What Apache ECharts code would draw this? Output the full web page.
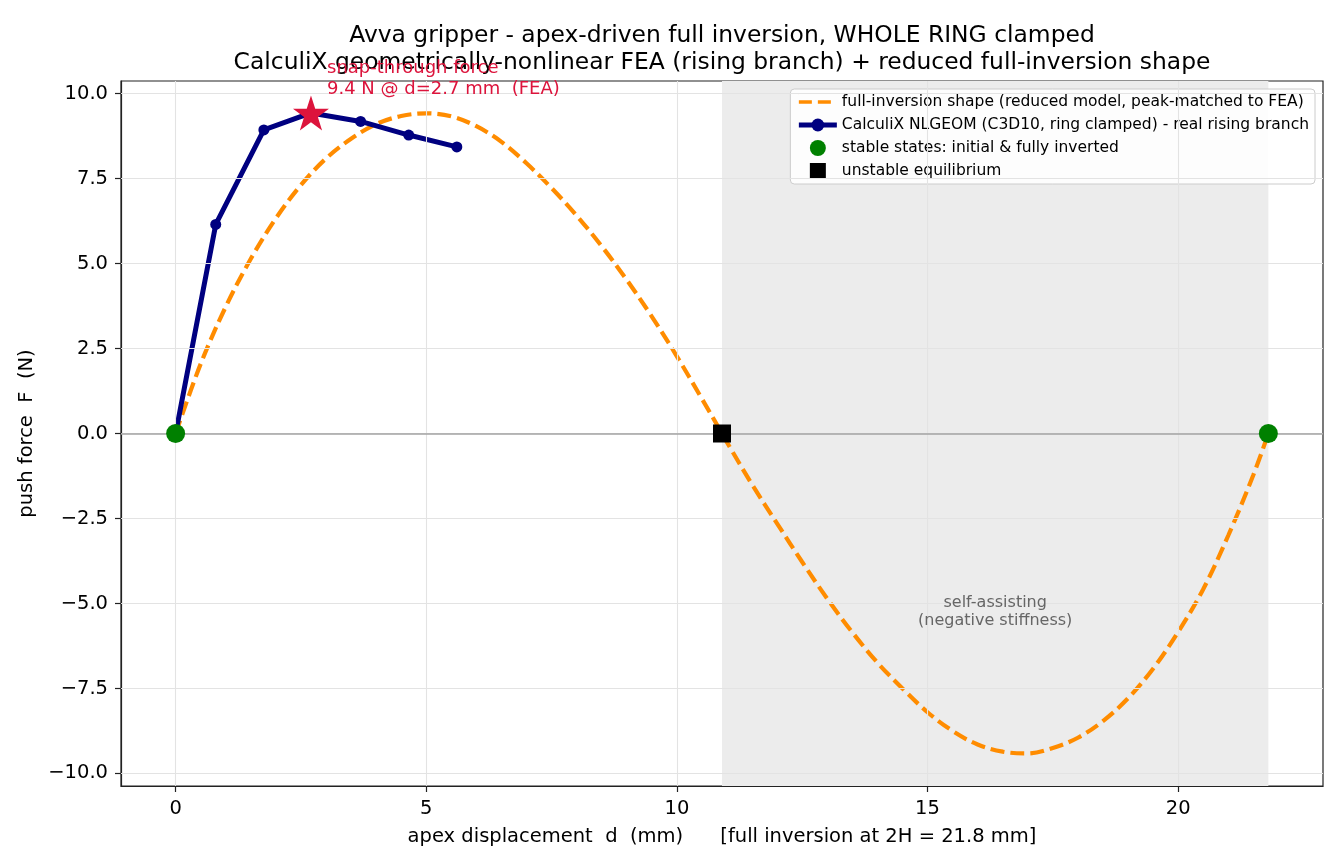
<!DOCTYPE html>
<html><head><meta charset="utf-8">
<script src="https://cdn.jsdelivr.net/npm/echarts@6/dist/echarts.min.js"></script>
<style>html,body{margin:0;padding:0;background:#fff}#c{width:1344px;height:868px}</style>
</head><body><div id="c"></div>
<script>
// ---------- data ----------
const shapeD = [0,0.5,1,1.5,2,2.5,3,3.5,4,4.5,5,5.5,6,6.5,7,7.5,8,8.5,9,9.5,10,10.5,10.9,11,11.5,12,12.5,13,13.5,14,14.5,15,15.5,16,16.5,17,17.5,18,18.5,19,19.5,20,20.5,21,21.5,21.8];
const shapeF = [0,2.05,3.73,5.14,6.33,7.31,8.09,8.67,9.10,9.34,9.42,9.33,9.04,8.58,7.95,7.22,6.41,5.51,4.52,3.44,2.27,1.02,0,-0.26,-1.5,-2.65,-3.78,-4.86,-5.85,-6.74,-7.5,-8.2,-8.75,-9.15,-9.36,-9.41,-9.25,-8.95,-8.46,-7.79,-6.92,-5.84,-4.58,-3.0,-1.22,0];
const feaD = [0,0.8,1.76,2.7,3.69,4.65,5.61];
const feaF = [0,6.15,8.93,9.43,9.18,8.78,8.43];
const peakD = [2.7];
const peakF = [9.43];
const stableD = [0,21.8];
const stableF = [0,0];
const unstableD = [10.9];
const unstableF = [0];
const shadeRange = [10.9,21.8];
const xTicks = [0,5,10,15,20];
const yTicks = [-10,-7.5,-5,-2.5,0,2.5,5,7.5,10];
const xRange = [-1.09,22.89];
const yRange = [-10.37,10.37];

const titleLines = ['Avva gripper - apex-driven full inversion, WHOLE RING clamped',
  'CalculiX geometrically-nonlinear FEA (rising branch) + reduced full-inversion shape'];
const annotText = 'snap-through force\n9.4 N @ d=2.7 mm  (FEA)';
const annotPos = [3.02,10.43];
const regionText = 'self-assisting\n(negative stiffness)';
const regionPos = [16.35,-5.24];
const names = ['full-inversion shape (reduced model, peak-matched to FEA)',
  'CalculiX NLGEOM (C3D10, ring clamped) - real rising branch',
  'stable states: initial & fully inverted',
  'unstable equilibrium'];

const FONT = 'DejaVu Sans';
function starPath(){
  const pts=[];
  for(let i=0;i<10;i++){
    const r = i%2===0 ? 1 : 0.382;
    const a = -Math.PI/2 + i*Math.PI/5;
    pts.push((50+50*r*Math.cos(a)).toFixed(2)+','+(50+50*r*Math.sin(a)).toFixed(2));
  }
  return 'path://M'+pts.join('L')+'Z';
}
// legend glyph: two dashes inside a 38x16 box (tiny corner specks keep the box size)
const dashIcon = 'path://M0,0L0.2,0L0,0.2ZM38,16L37.8,16L38,15.8ZM0,6.2H13V9.8H0ZM19,6.2H32V9.8H19Z';
const squareIcon = 'path://M0,0H10V10H0Z';
const zip=(a,b)=>a.map((v,i)=>[v,b[i]]);
const fmtY = v => { const s=(Math.abs(v)).toFixed(1); return v<0 ? '\u2212'+s : s; };

const GRID = {left:121,right:21,top:81,bottom:82};
const chart = echarts.init(document.getElementById('c'),null,{renderer:'canvas'});
const option = {
  backgroundColor:'#ffffff',
  animation:false,
  textStyle:{fontFamily:FONT},
  grid:{left:GRID.left,right:GRID.right,top:GRID.top,bottom:GRID.bottom,show:true,borderColor:'#222',borderWidth:1.2,backgroundColor:'transparent'},
  legend:{
    orient:'vertical',right:29,top:89,
    backgroundColor:'rgba(255,255,255,0.9)',borderColor:'#cccccc',borderWidth:1,borderRadius:4,
    padding:[5,6,5,6],itemWidth:38,itemHeight:16,itemGap:7,
    textStyle:{fontFamily:FONT,fontSize:15.5,color:'#000'},
    data:[
      {name:names[0],icon:dashIcon,itemStyle:{color:'#ff8c00'}},
      {name:names[1],lineStyle:{width:5,color:'#000080'}},
      {name:names[2]},
      {name:names[3],icon:squareIcon}
    ]
  },
  xAxis:{
    type:'value',min:xRange[0],max:xRange[1],
    name:'apex displacement  d  (mm)      [full inversion at 2H = 21.8 mm]',
    nameLocation:'middle',nameGap:41,
    nameTextStyle:{fontFamily:FONT,fontSize:19.5,color:'#000'},
    axisLine:{show:true,onZero:false,lineStyle:{color:'#222',width:1.2}},
    axisTick:{show:true,customValues:xTicks,length:6,lineStyle:{color:'#222',width:1.2}},
    axisLabel:{customValues:xTicks,margin:13,fontFamily:FONT,fontSize:19.5,color:'#000',formatter:v=>String(v)},
    splitLine:{show:false}
  },
  yAxis:{
    type:'value',min:yRange[0],max:yRange[1],
    name:'push force  F  (N)',nameLocation:'middle',nameGap:74,
    nameTextStyle:{fontFamily:FONT,fontSize:19.5,color:'#000'},
    axisLine:{show:true,onZero:false,lineStyle:{color:'#222',width:1.2}},
    axisTick:{show:true,customValues:yTicks,length:6,lineStyle:{color:'#222',width:1.2}},
    axisLabel:{customValues:yTicks,margin:13,fontFamily:FONT,fontSize:19.5,color:'#000',formatter:fmtY},
    splitLine:{show:false}
  },
  series:[
    {name:'_shade',type:'line',data:[],z:1,silent:true,
     markArea:{silent:true,itemStyle:{color:'#ececec'},label:{show:false},
       data:[[{xAxis:shadeRange[0]},{xAxis:shadeRange[1]}]]}},
    {name:'_grid',type:'line',data:[],z:1,silent:true,
     markLine:{silent:true,symbol:['none','none'],label:{show:false},animation:false,
       lineStyle:{color:'#e3e3e3',width:1.1,type:'solid'},
       data:xTicks.map(v=>({xAxis:v})).concat(yTicks.map(v=>({yAxis:v})))}},
    {name:'_zero',type:'line',data:[],z:2,silent:true,
     markLine:{silent:true,symbol:['none','none'],label:{show:false},animation:false,
       lineStyle:{color:'#a3a3a3',width:1.6,type:'solid'},data:[{yAxis:0}]}},
    {name:names[0],type:'line',data:zip(shapeD,shapeF),z:3,symbol:'none',showSymbol:false,
     smooth:0.35,
     lineStyle:{color:'#ff8c00',width:4.2,type:[14,6]},itemStyle:{color:'#ff8c00'}},
    {name:names[1],type:'line',data:zip(feaD,feaF),z:4,symbol:'circle',symbolSize:11,showSymbol:true,
     lineStyle:{color:'#000080',width:5},itemStyle:{color:'#000080',opacity:1}},
    {name:'_star',type:'scatter',data:zip(peakD,peakF),z:5,symbol:starPath(),symbolSize:[36,35],
     itemStyle:{color:'#dc143c',opacity:1}},
    {name:names[2],type:'scatter',data:zip(stableD,stableF),z:6,symbol:'circle',symbolSize:19,
     itemStyle:{color:'#008000',opacity:1},clip:false},
    {name:names[3],type:'scatter',data:zip(unstableD,unstableF),z:6,symbol:'rect',symbolSize:18,
     itemStyle:{color:'#000000',opacity:1}}
  ]
};
chart.setOption(option);

const gridCx = GRID.left + (1344-GRID.left-GRID.right)/2;
const ap = chart.convertToPixel({gridIndex:0},annotPos);
const rp = chart.convertToPixel({gridIndex:0},regionPos);
chart.setOption({graphic:[
  {type:'text',x:gridCx,y:36,z:10,style:{text:titleLines[0],fontFamily:FONT,fontSize:23.4,fill:'#000',textAlign:'center',textVerticalAlign:'middle'}},
  {type:'text',x:gridCx,y:63,z:10,style:{text:titleLines[1],fontFamily:FONT,fontSize:23.4,fill:'#000',textAlign:'center',textVerticalAlign:'middle'}},
  {type:'text',x:ap[0],y:ap[1],z:10,style:{text:annotText,fontFamily:FONT,fontSize:18,lineHeight:21,fill:'#dc143c',textAlign:'left',textVerticalAlign:'middle'}},
  {type:'text',x:rp[0],y:rp[1],z:10,style:{text:regionText,fontFamily:FONT,fontSize:16,lineHeight:18,fill:'#666666',textAlign:'center',textVerticalAlign:'middle'}}
]});
</script>
</body></html>
